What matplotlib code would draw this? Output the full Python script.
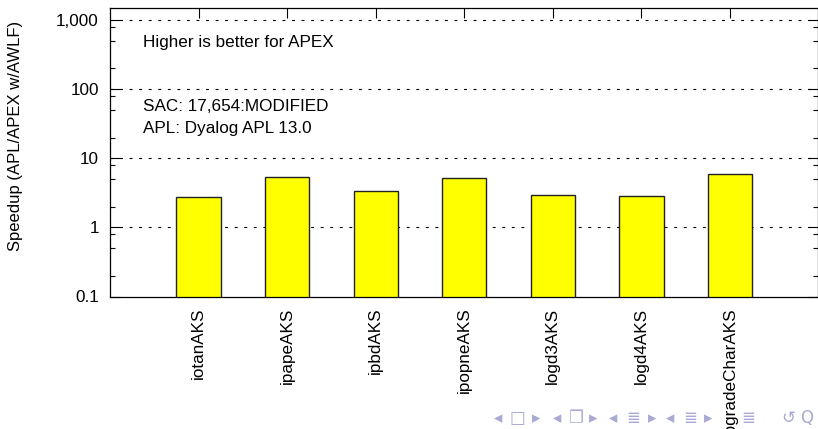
import matplotlib
matplotlib.use("Agg")
import matplotlib.pyplot as plt
from matplotlib.ticker import FixedLocator, NullFormatter

plt.rcParams['font.family'] = ['Liberation Sans', 'DejaVu Sans']

# Benchmarks and measured speedups
benchmarks = ["iotanAKS", "ipapeAKS", "ipbdAKS", "ipopneAKS",
              "logd3AKS", "logd4AKS", "upgradeCharAKS"]
speedup = [2.72, 5.3, 3.35, 5.2, 2.9, 2.82, 5.9]

major_ticks = [0.1, 1, 10, 100, 1000]
major_labels = ["0.1", "1", "10", "100", "1,000"]
minor_ticks = [m * 10.0 ** e for e in range(-1, 4) for m in (2, 5, 8)]

notes = ["Higher is better for APEX", "SAC: 17,654:MODIFIED", "APL: Dyalog APL 13.0"]

W, H = 818, 429
fig = plt.figure(figsize=(W / 100, H / 100), dpi=100)
ax = fig.add_axes([110 / W, 1 - 296.5 / H, 708.5 / W, 288.5 / H])

x = list(range(1, len(benchmarks) + 1))
ax.bar(x, speedup, width=0.5, bottom=0.0001, color="#ffff00",
       edgecolor="#222222", linewidth=1.0, zorder=3)

ax.set_yscale("log")
ax.set_ylim(0.1, 1500)
ax.set_xlim(0, len(benchmarks) + 1.0)

ax.set_yticks(major_ticks)
ax.set_yticklabels(major_labels)
ax.yaxis.set_minor_locator(FixedLocator(minor_ticks))
ax.yaxis.set_minor_formatter(NullFormatter())

ax.set_xticks(x)
ax.set_xticklabels(benchmarks, rotation=90, ha="center", va="top")

ax.tick_params(axis="both", which="major", direction="in", length=7,
               width=0.8, labelsize=12.3, top=True, right=True)
ax.tick_params(axis="y", which="major", pad=8)
ax.tick_params(axis="x", which="major", pad=8)
ax.tick_params(axis="both", which="minor", direction="in", length=3.6,
               width=0.8, right=True)
ax.tick_params(axis="x", which="minor", bottom=False, top=False)

# dotted gridlines at the decades above 0.1
for v in major_ticks[1:]:
    ax.axhline(v, color="black", linewidth=0.8, linestyle=(0, (2.6, 6.0)), zorder=1)

for s in ax.spines.values():
    s.set_linewidth(0.9)
    s.set_zorder(4)
ax.set_axisbelow(True)

ax.text(0.0466, 0.882, notes[0], transform=ax.transAxes, fontsize=12.3,
        ha="left", va="center")
ax.text(0.0466, 0.660, notes[1], transform=ax.transAxes, fontsize=12.3,
        ha="left", va="center")
ax.text(0.0466, 0.584, notes[2], transform=ax.transAxes, fontsize=12.3,
        ha="left", va="center")

fig.text(16 / W, 1 - 136 / H, "Speedup (APL/APEX w/AWLF)", rotation=90,
         ha="center", va="center", fontsize=12)

# slide navigation symbols
nav_color = "#a9a9d6"
nav = [(498, "◂"), (517, "□"), (536, "▸"), (557, "◂"), (575, "❐"), (593, "▸"),
       (613, "◂"), (633, "≣"), (652, "▸"), (670, "◂"), (690, "≣"), (708, "▸"),
       (748, "≣"), (788, "↺"), (807, "Q")]
for px, sym in nav:
    fig.text(px / W, 1 - 418 / H, sym, ha="center", va="center",
             fontsize=12, color=nav_color, family=["DejaVu Sans"])

fig.savefig("out.png", dpi=100)
